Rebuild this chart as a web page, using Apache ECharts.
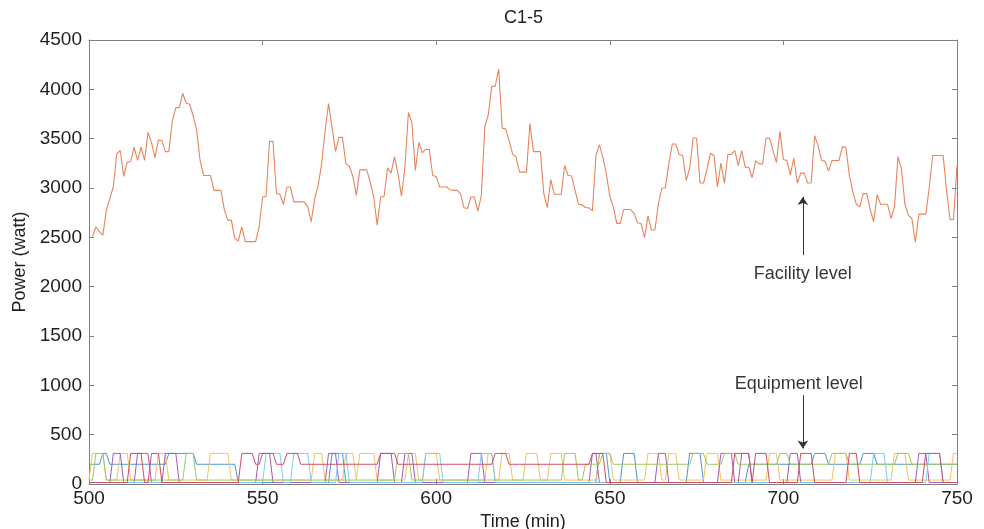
<!DOCTYPE html>
<html>
<head>
<meta charset="utf-8">
<script src="https://cdn.jsdelivr.net/npm/echarts@6/dist/echarts.min.js"></script>
<style>
html,body{margin:0;padding:0;background:#fff;}
#chart{width:984px;height:529px;}
</style>
</head>
<body>
<div id="chart"></div>
<script>
// ---------------- DATA ----------------
const chartTitle = 'C1-5';
const xTicks = [500, 550, 600, 650, 700, 750];
const yTicks = [0, 500, 1000, 1500, 2000, 2500, 3000, 3500, 4000, 4500];

// Facility level power, one value per minute starting at minute 501
const facilityStartMinute = 501;
const facilityPower = [
  2507,2607,2557,2523,2775,2893,3010,3346,3380,3117,
  3262,3268,3413,3279,3413,3279,3564,3463,3305,3487,
  3480,3369,3369,3681,3815,3815,3960,3859,3849,3732,
  3587,3279,3127,3127,3127,2976,2976,2976,2775,2674,
  2674,2490,2463,2607,2456,2456,2456,2456,2607,2909,
  2916,3473,3473,2943,2936,2835,3010,3010,2859,2859,
  2859,2859,2809,2658,2893,3027,3245,3580,3856,3614,
  3372,3513,3513,3245,3218,3117,2926,3184,3184,3184,
  3060,2909,2624,2909,2916,3205,3151,3319,3144,2916,
  3211,3765,3664,3178,3463,3356,3393,3389,3127,3117,
  3010,3010,3010,2983,2976,2976,2943,2799,2792,2909,
  2909,2765,2926,3621,3742,4030,4033,4208,3607,3597,
  3480,3346,3312,3161,3161,3161,3654,3369,3369,3369,
  2943,2802,3084,2936,2936,2936,3228,3127,3124,2976,
  2835,2829,2802,2799,2768,3329,3440,3312,3144,2916,
  2809,2641,2641,2782,2782,2782,2741,2648,2641,2497,
  2718,2574,2574,2842,3000,3003,3245,3446,3446,3339,
  3329,3077,3195,3507,3507,3050,3050,3195,3352,3329,
  3010,3252,3050,3339,3339,3379,3228,3379,3211,3211,
  3104,3278,3245,3245,3507,3507,3379,3258,3574,3289,
  3279,3134,3302,3050,3151,3151,3050,3050,3530,3429,
  3278,3272,3171,3278,3278,3278,3419,3413,3127,2960,
  2835,2809,2943,2943,2782,2658,2933,2835,2835,2835,
  2691,2809,3319,3195,2835,2725,2691,2450,2735,2735,
  2735,3003,3329,3329,3329,3329,2976,2681,2681,3228
];

// Equipment level: minute range, "on" power, and on-intervals / base levels per device
const equipStartMinute = 500;
const equipEndMinute = 750;
const equipOnPower = 310;

const blueOn = [[504,505],[523,526],[527,530],[570,573],[647,649],[654,657],[673,676],[709,712],[723,726]];
const blueBase = [[500,200],[543,15],[690,200]];

const yellowOn = [[501,504],[509,511],[520,522],[535,540],[565,567],[574,576],[578,582],[592,594],[597,600],[615,616],[619,621],[626,629],[633,636],[647,650],[661,664],[667,669],[678,681],[696,698],[715,718],[732,735],[749,750]];
const yellowBase = [[500,40]];

const purpleOn = [[507,509],[514,517],[522,525],[549,552],[569,571],[584,587],[591,593],[610,613],[645,646],[664,666],[682,685],[688,690],[702,704],[739,741]];
const purpleBase = [[500,15]];

const greenOn = [[502,504],[528,530],[589,592],[637,640],[648,650],[674,677],[683,686],[699,701],[714,718],[733,736]];
const greenBase = [[500,40],[643,200]];

const lightBlueOn = [[551,555],[559,563],[572,574],[597,601],[613,616],[726,729],[742,745]];
const lightBlueBase = [[500,15]];

const redOn = [[512,515],[518,520],[544,547],[550,553],[557,560],[584,588],[617,620],[645,648],[686,690],[692,695],[705,708],[719,721],[741,745]];
const redBase = [[500,15],[544,200],[645,15]];

// Annotation texts
const facilityLabel = 'Facility level';
const equipmentLabel = 'Equipment level';

// ---------------- BUILD ----------------
const GRID = {left: 89, right: 27, top: 40, bottom: 45, containLabel: false, outerBoundsMode: 'none'};
const FONT = '"Liberation Sans", Arial, Helvetica, sans-serif';
const TXT = '#1f1f1f';
const AXC = '#7f7f7f';

const facilityData = facilityPower.map((v, i) => [facilityStartMinute + i, v]);

function buildEquip(onList, baseList) {
  const out = [];
  for (let t = equipStartMinute; t <= equipEndMinute; t++) {
    let lv = baseList[0][1];
    for (const [from, l] of baseList) if (t >= from) lv = l;
    for (const [a, b] of onList) if (t >= a && t <= b) lv = equipOnPower;
    out.push([t, lv]);
  }
  return out;
}

const equipDefs = [
  {name: 'Blue', color: '#4a93d6', on: blueOn, base: blueBase},
  {name: 'Yellow', color: '#f2c35a', on: yellowOn, base: yellowBase},
  {name: 'Purple', color: '#a25ab6', on: purpleOn, base: purpleBase},
  {name: 'Green', color: '#9cc863', on: greenOn, base: greenBase},
  {name: 'LightBlue', color: '#7ccbef', on: lightBlueOn, base: lightBlueBase},
  {name: 'Red', color: '#d04a64', on: redOn, base: redBase}
];

const series = equipDefs.map(d => ({
  name: d.name, type: 'line', data: buildEquip(d.on, d.base),
  symbol: 'none', silent: true,
  lineStyle: {color: d.color, width: 1}, itemStyle: {color: d.color}
}));

series.push({
  name: 'Facility', type: 'line', data: facilityData, symbol: 'none', silent: true,
  lineStyle: {color: '#e8845c', width: 1.1}, itemStyle: {color: '#e8845c'}
});

// annotations (data coordinates)
series.push({
  name: 'annot', type: 'scatter', symbolSize: 0, silent: true,
  data: [[705.6, 2130, facilityLabel], [704.4, 1010, equipmentLabel]],
  label: {show: true, position: 'inside', formatter: p => p.value[2],
          color: '#000', fontSize: 18, fontFamily: FONT},
  markLine: {
    silent: true, symbol: ['none', 'arrow'], symbolSize: 8,
    label: {show: false},
    lineStyle: {color: '#333', width: 1, type: 'solid'},
    data: [
      [{coord: [705.6, 2320]}, {coord: [705.6, 2910]}],
      [{coord: [705.6, 900]}, {coord: [705.6, 360]}]
    ]
  }
});

const chart = echarts.init(document.getElementById('chart'), null, {renderer: 'canvas'});

const axisCommon = {
  axisLine: {show: true, onZero: false, lineStyle: {color: AXC, width: 1}},
  axisTick: {show: true, inside: true, length: 5, lineStyle: {color: AXC}},
  splitLine: {show: false}
};

chart.setOption({
  animation: false,
  backgroundColor: '#fff',
  grid: GRID,
  graphic: [{
    type: 'text', left: GRID.left + (984 - GRID.left - GRID.right) / 2 - 19, top: 9,
    style: {text: chartTitle, fill: TXT, font: '18px ' + FONT}
  }],
  xAxis: [
    Object.assign({
      type: 'value', min: xTicks[0], max: xTicks[xTicks.length - 1], interval: 50, position: 'bottom',
      axisLabel: {color: TXT, fontSize: 19, fontFamily: FONT, margin: 5, formatter: v => String(v)},
      name: 'Time (min)', nameLocation: 'middle', nameGap: 26,
      nameTextStyle: {color: TXT, fontSize: 18, fontFamily: FONT}
    }, axisCommon),
    Object.assign({
      type: 'value', min: xTicks[0], max: xTicks[xTicks.length - 1], interval: 50, position: 'top',
      axisLabel: {show: false}
    }, axisCommon)
  ],
  yAxis: [
    Object.assign({
      type: 'value', min: yTicks[0], max: yTicks[yTicks.length - 1], interval: 500, position: 'left',
      axisLabel: {color: TXT, fontSize: 19, fontFamily: FONT, margin: 7, formatter: v => String(v)},
      name: 'Power (watt)', nameLocation: 'middle', nameGap: 51,
      nameTextStyle: {color: TXT, fontSize: 18, fontFamily: FONT}
    }, axisCommon),
    Object.assign({
      type: 'value', min: yTicks[0], max: yTicks[yTicks.length - 1], interval: 500, position: 'right',
      axisLabel: {show: false}
    }, axisCommon)
  ],
  series: series
});
</script>
</body>
</html>
